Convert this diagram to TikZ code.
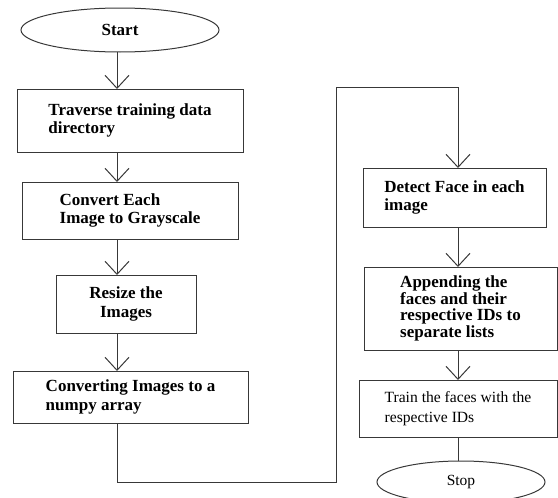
\documentclass[tikz,border=0pt]{standalone}
\usepackage{fontspec}
\setmainfont{Liberation Serif}
\usetikzlibrary{shapes.geometric,arrows.meta}
\begin{document}
\begin{tikzpicture}[x=1pt,y=-1pt,
  every node/.style={inner sep=0pt,outer sep=0pt},
  ln/.style={draw=black!78,line width=1pt},
  procbox/.style={ln,rectangle,align=left,font=\fontsize{17}{18.5}\selectfont\bfseries},
  term/.style={ln,ellipse},
  arr/.style={ln,-{Straight Barb[length=13pt,width=24pt,line width=1pt]}}]
\useasboundingbox (0,0) rectangle (558,498);
% left column
\node[term,minimum width=198pt,minimum height=44pt,font=\fontsize{17}{18.5}\selectfont\bfseries] (start) at (120,30) {Start};
\node[procbox,minimum width=226pt,minimum height=63pt] (b1) at (130,120.5) {Traverse training data\\directory};
\node[procbox,minimum width=216pt,minimum height=57pt] (b2) at (130,210.5) {Convert Each\\Image to Grayscale};
\node[procbox,align=center,minimum width=140pt,minimum height=58pt] (b3) at (126,304) {Resize the\\Images};
\node[procbox,minimum width=235pt,minimum height=52pt] (b4) at (130.5,397) {Converting Images to a\\numpy array};
% right column
\node[procbox,minimum width=183pt,minimum height=59pt] (b5) at (454.5,197.5) {Detect Face in each\\image};
\node[procbox,font=\fontsize{17}{16.8}\selectfont\bfseries,minimum width=193pt,minimum height=83pt] (b6) at (460.5,308.5) {Appending the\\faces and their\\respective IDs to\\separate lists};
\node[procbox,font=\fontsize{15.6}{20}\selectfont,minimum width=198pt,minimum height=57pt] (b7) at (458,408.5) {Train the faces with the\\respective IDs};
\node[term,minimum width=168pt,minimum height=42pt,font=\fontsize{15.5}{18}\selectfont] (stop) at (461,482) {Stop};
% connector columns
\coordinate (cl) at (117,0);
\coordinate (cr) at (458,0);
\coordinate (bend1) at (117,482);
\coordinate (bend2) at (336,482);
\coordinate (bend3) at (336,87);
\coordinate (bend4) at (458,87);
\draw[arr] (cl |- start.south) -- (cl |- b1.north);
\draw[arr] (cl |- b1.south) -- (cl |- b2.north);
\draw[arr] (cl |- b2.south) -- (cl |- b3.north);
\draw[arr] (cl |- b3.south) -- (cl |- b4.north);
\draw[arr] (cl |- b4.south) -- (bend1) -- (bend2) -- (bend3) -- (bend4) -- (cr |- b5.north);
\draw[arr] (cr |- b5.south) -- (cr |- b6.north);
\draw[arr] (cr |- b6.south) -- (cr |- b7.north);
\draw[ln] (cr |- b7.south) -- (cr |- stop.north);
\end{tikzpicture}
\end{document}
